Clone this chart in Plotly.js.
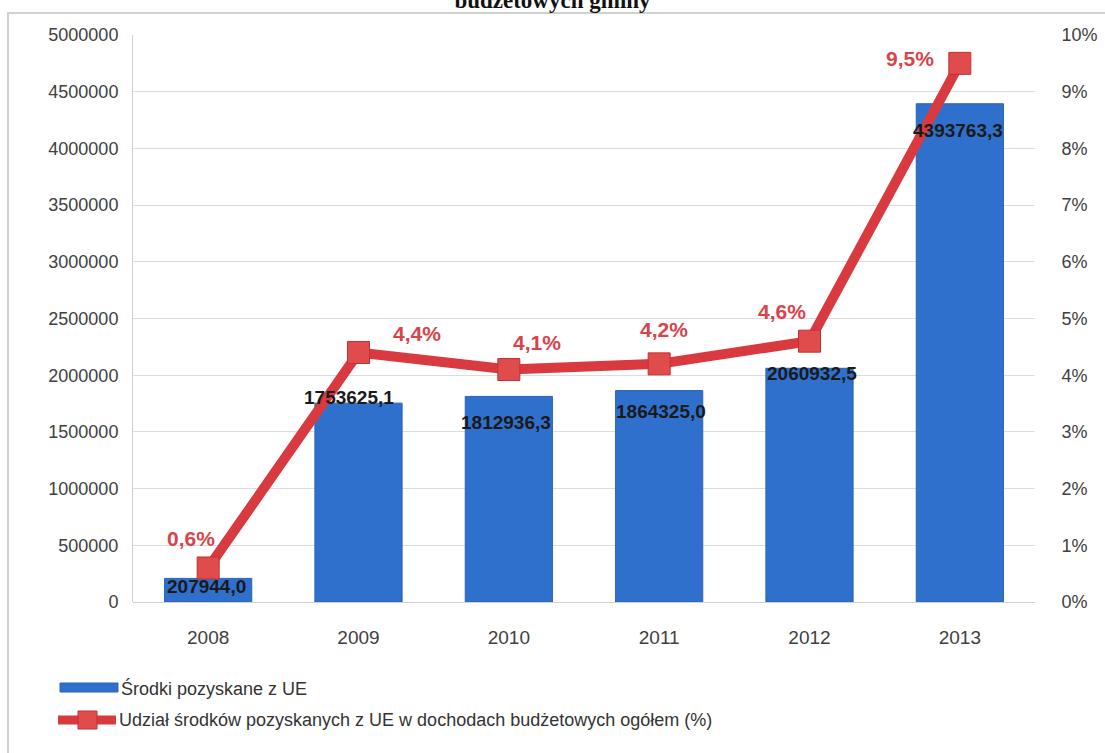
<!DOCTYPE html>
<html><head><meta charset="utf-8">
<script src="https://cdn.plot.ly/plotly-3.0.1.min.js"></script>
<style>html,body{margin:0;padding:0;background:#fff;}</style>
</head><body>
<div id="chart" style="width:1105px;height:753px;"></div>
<script>
const years = ['2008','2009','2010','2011','2012','2013'];
const funds = [207944.0, 1753625.1, 1812936.3, 1864325.0, 2060932.5, 4393763.3];
const fundLabels = ['207944,0','1753625,1','1812936,3','1864325,0','2060932,5','4393763,3'];
const shares = [0.006, 0.044, 0.041, 0.042, 0.046, 0.095];
const shareLabels = ['0,6%','4,4%','4,1%','4,2%','4,6%','9,5%'];
const leftTicks = [0,500000,1000000,1500000,2000000,2500000,3000000,3500000,4000000,4500000,5000000];
const rightTicks = [0,0.01,0.02,0.03,0.04,0.05,0.06,0.07,0.08,0.09,0.10];
const rightTickText = ['0%','1%','2%','3%','4%','5%','6%','7%','8%','9%','10%'];
const seriesNames = ['Środki pozyskane z UE','Udział środków pozyskanych z UE w dochodach budżetowych ogółem (%)'];

const W=1105, H=753, ML=133, MR=70, MT=35, MB=151;
const PW=W-ML-MR, PH=H-MT-MB;
const px = v => (v-ML)/PW;
const py = v => (H-MB-v)/PH;

// label placement tweaks (pixels)
const barLabelShift = [[-2,-8],[-10,6],[-3,-26],[2,-21],[2,-5],[-2,-27]];
const pctLabelShift = [[-17,29],[58,19],[28,27],[5,34],[-28,30],[-50,5]];

const annotations = [];
years.forEach((y,i)=>{
  annotations.push({x:i, y:funds[i], xref:'x', yref:'y', text:fundLabels[i], showarrow:false,
    xshift:barLabelShift[i][0], yshift:barLabelShift[i][1], yanchor:'middle',
    font:{family:'Liberation Sans, Arial', size:19, color:'#1a1a1a', weight:700}});
  annotations.push({x:i, y:shares[i], xref:'x', yref:'y2', text:shareLabels[i], showarrow:false,
    xshift:pctLabelShift[i][0], yshift:pctLabelShift[i][1], yanchor:'middle',
    font:{family:'Liberation Sans, Arial', size:21, color:'#d9434a', weight:700}});
});
// custom legend texts
annotations.push({xref:'paper', yref:'paper', x:px(119), y:py(688), xanchor:'left', yanchor:'middle',
  text:seriesNames[0], showarrow:false, font:{family:'Liberation Sans, Arial', size:18, color:'#333'}});
annotations.push({xref:'paper', yref:'paper', x:px(117), y:py(720), xanchor:'left', yanchor:'middle',
  text:seriesNames[1], showarrow:false, font:{family:'Liberation Sans, Arial', size:18, color:'#333'}});

const traces = [
  {type:'bar', x:years, y:funds, name:seriesNames[0],
   marker:{color:'#2f70cd', line:{color:'#2a62b5', width:1}}, yaxis:'y', hoverinfo:'skip'},
  {type:'scatter', mode:'lines+markers', x:years, y:shares, yaxis:'y2',
   name:seriesNames[1],
   line:{color:'#d93a3f', width:10},
   marker:{symbol:'square', size:22, color:'#e04b4b', line:{color:'#c23034', width:1}}, hoverinfo:'skip'}
];

const layout = {
  width:W, height:H,
  margin:{l:ML, r:MR, t:MT, b:MB},
  paper_bgcolor:'#ffffff', plot_bgcolor:'#ffffff',
  title:{text:'<b>budżetowych gminy</b>', x:0.5, xanchor:'center', y:1.0, yanchor:'middle', yref:'container',
    font:{family:'Liberation Serif, Times New Roman', size:23, color:'#111'}},
  bargap:0.42,
  xaxis:{type:'category', range:[-0.5,5.5], tickfont:{family:'Liberation Sans, Arial', size:19, color:'#404040'},
    showline:false, ticks:'outside', ticklen:18, tickcolor:'rgba(0,0,0,0)', showgrid:false},
  yaxis:{range:[0,5000000], tickvals:leftTicks, ticktext:leftTicks.map(String),
    tickfont:{family:'Liberation Sans, Arial', size:18, color:'#404040'},
    gridcolor:'#dcdcdc', gridwidth:1, showline:true, linecolor:'#d0d0d0', zeroline:true, zerolinecolor:'#d0d0d0',
    ticks:'outside', ticklen:10, tickcolor:'rgba(0,0,0,0)', automargin:false},
  yaxis2:{range:[0,0.10], overlaying:'y', side:'right', tickvals:rightTicks, ticktext:rightTickText,
    tickfont:{family:'Liberation Sans, Arial', size:18, color:'#404040'},
    showgrid:false, zeroline:false, showline:false, ticks:'outside', ticklen:22, tickcolor:'rgba(0,0,0,0)', automargin:false},
  showlegend:false,
  annotations:annotations,
  shapes:[
    {type:'rect', xref:'paper', yref:'paper', x0:px(8), x1:px(1110), y0:py(760), y1:py(13),
     line:{color:'#d0d0d0', width:2}, fillcolor:'rgba(0,0,0,0)', layer:'below'},
    // legend symbol: bar
    {type:'rect', xref:'paper', yref:'paper', x0:px(60), x1:px(118), y0:py(692), y1:py(683),
     line:{color:'#2a62b5', width:1}, fillcolor:'#2f70cd'},
    // legend symbol: line + square marker
    {type:'line', xref:'paper', yref:'paper', x0:px(58), x1:px(116), y0:py(720), y1:py(720),
     line:{color:'#d93a3f', width:9}},
    {type:'rect', xref:'paper', yref:'paper', x0:px(78), x1:px(97), y0:py(729), y1:py(711),
     line:{color:'#c23034', width:1}, fillcolor:'#e04b4b'}
  ]
};

Plotly.newPlot('chart', traces, layout, {staticPlot:true, displayModeBar:false});
</script>
</body></html>
